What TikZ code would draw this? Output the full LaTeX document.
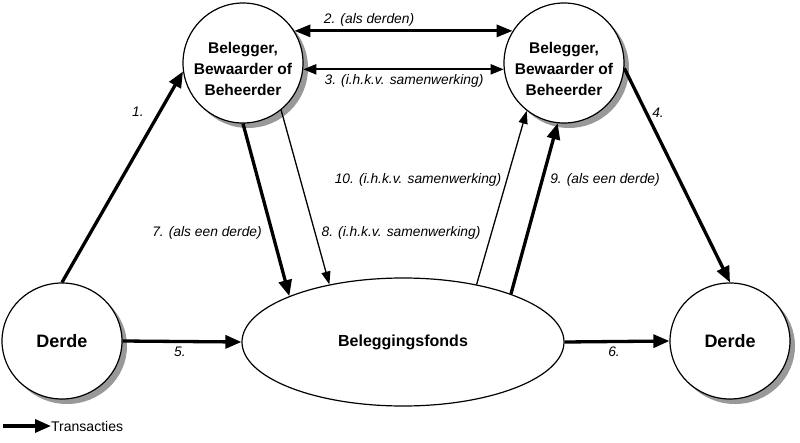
\documentclass[tikz,border=0pt]{standalone}
\usepackage{fontspec}
\setmainfont{Liberation Sans}
\usetikzlibrary{arrows.meta,shapes.geometric,shadows}
\begin{document}
\begin{tikzpicture}[x=1pt,y=-1pt,
  circ/.style={circle, draw, line width=1.2pt, fill=white, minimum size=120pt, inner sep=0pt,
    drop shadow={shadow xshift=5pt, shadow yshift=-5pt, fill=black!40, opacity=1}},
  derde/.style={ellipse, draw, line width=1.2pt, fill=white, minimum width=120pt, minimum height=116pt, inner sep=0pt,
    drop shadow={shadow xshift=5pt, shadow yshift=-5pt, fill=black!40, opacity=1},
    font=\bfseries\fontsize{18}{21}\selectfont},
  fonds/.style={ellipse, draw, line width=1.2pt, fill=white, minimum width=322pt, minimum height=128pt, inner sep=0pt,
    font=\bfseries\fontsize{16}{19}\selectfont},
  ctext/.style={align=center, inner sep=0pt, font=\bfseries\fontsize{15.5}{21}\selectfont},
  lbl/.style={inner sep=0pt, font=\itshape\fontsize{13.8}{16}\selectfont},
  thickarr/.style={line width=3.3pt, -{Triangle[length=16pt,width=13pt]}},
  thinarr/.style={line width=1.3pt, -{Triangle[length=13pt,width=9pt]}},
]
\useasboundingbox (0,0) rectangle (800,442);

% nodes
\node[circ] (bl) at (243,63) {};
\node[ctext] (blt) at (243,69) {Belegger,\\Bewaarder of\\Beheerder};
\node[circ] (br) at (564,63) {};
\node[ctext] (brt) at (564,69) {Belegger,\\Bewaarder of\\Beheerder};
\node[derde] (dl) at (62,341) {Derde};
\node[derde] (dr) at (730,341) {Derde};
\node[fonds] (e) at (403,342) {Beleggingsfonds};

% connectors
\draw[thickarr] (dl.90) -- (bl.188);
\draw[line width=3pt, {Triangle[length=16pt,width=12pt]}-{Triangle[length=16pt,width=12pt]}] (bl.32) -- (br.148);
\draw[line width=2pt, {Triangle[length=13pt,width=10pt]}-{Triangle[length=13pt,width=10pt]}] (bl.-6) -- (br.186);
\draw[thickarr] (br.-5) -- (dr.90);
\draw[thickarr] (dl.0) -- (e.180);
\draw[thickarr] (e.0) -- (dr.180);
\draw[thickarr] (bl.270) -- (e.158);
\draw[thinarr] (bl.-51) -- (e.142);
\draw[thinarr] (e.38.6) -- (br.232);
\draw[thickarr] (e.24) -- (br.264);

% labels
\node[lbl] (l1) at (138,112) {1.};
\node[lbl] (l2) at (369,20) {2. (als derden)};
\node[lbl] (l3) at (404,81) {3. (i.h.k.v. samenwerking)};
\node[lbl] (l4) at (658,113) {4.};
\node[lbl] (l5) at (180,352) {5.};
\node[lbl] (l6) at (614,352) {6.};
\node[lbl] (l7) at (207,233) {7. (als een derde)};
\node[lbl] (l8) at (401,233) {8. (i.h.k.v. samenwerking)};
\node[lbl] (l9) at (605,180) {9. (als een derde)};
\node[lbl] (l10) at (418,180) {10. (i.h.k.v. samenwerking)};

% legend
\coordinate (lg) at (3,426);
\node[anchor=west, inner sep=0pt, font=\fontsize{14}{16}\selectfont] (lgt) at (51,426) {Transacties};
\draw[thickarr] (lg) -- (lgt.west);
\end{tikzpicture}
\end{document}
